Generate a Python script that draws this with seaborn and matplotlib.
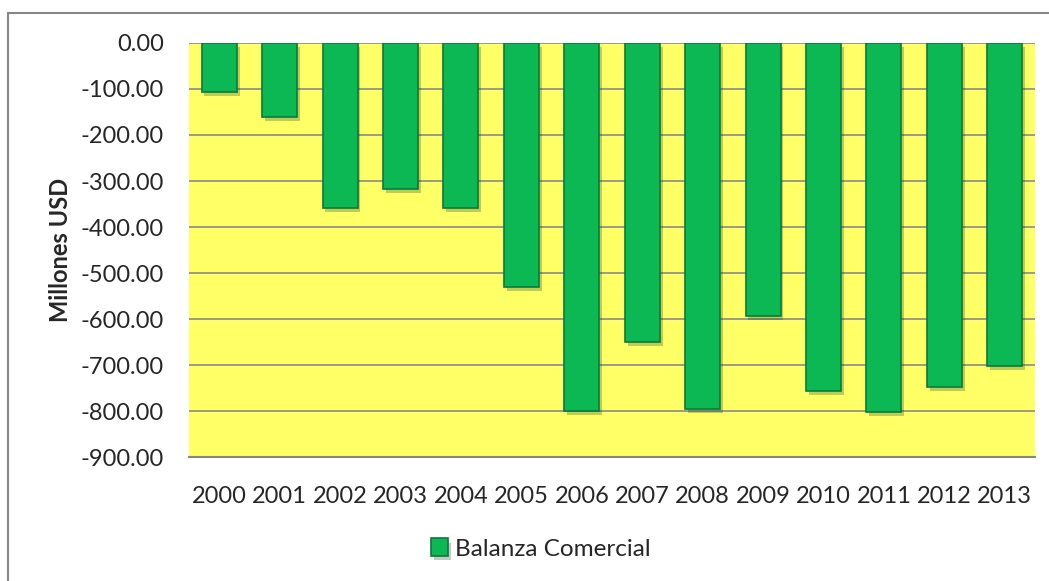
import pandas as pd
import matplotlib
matplotlib.use("Agg")
import matplotlib.pyplot as plt
import matplotlib.patheffects as pe
from matplotlib.patches import Rectangle
import seaborn as sns

years = ['2000', '2001', '2002', '2003', '2004', '2005', '2006',
         '2007', '2008', '2009', '2010', '2011', '2012', '2013']
balanza = [-106, -161, -358, -317, -358, -530, -800,
           -650, -795, -594, -757, -802, -748, -702]
yticks = [0, -100, -200, -300, -400, -500, -600, -700, -800, -900]

df = pd.DataFrame({'year': years, 'balanza': balanza})

sns.set_style('white')
plt.rcParams['font.family'] = ['Lato', 'DejaVu Sans']

fig = plt.figure(figsize=(10.49, 5.81), dpi=100)
ax = fig.add_axes([0.1802, 0.2134, 0.8065, 0.7126])

sns.barplot(data=df, x='year', y='balanza', color='#0BB853', saturation=1,
            width=0.58, edgecolor='#0A7A3A', linewidth=1.2, ax=ax,
            label='Balanza Comercial', zorder=3)

for bar in ax.patches:
    bar.set_path_effects([pe.SimplePatchShadow(offset=(2, -3), alpha=0.25),
                          pe.Normal()])

ax.set_facecolor('#FFFF66')
ax.set_ylim(-900, 0)
ax.set_xlim(-0.5, len(years) - 0.5)
ax.set_yticks(yticks)
ax.set_yticklabels([f'{v:.2f}' for v in yticks])
ax.yaxis.grid(True, color='#8A8A8A', linewidth=1.2, zorder=0)
ax.set_axisbelow(True)
for side in ['left', 'right', 'top']:
    ax.spines[side].set_visible(False)
ax.spines['bottom'].set_color('#868686')
ax.spines['bottom'].set_linewidth(1.5)
ax.tick_params(axis='both', length=0, labelsize=17)
ax.tick_params(axis='y', pad=18)
ax.tick_params(axis='x', pad=21)
ax.set_xlabel('')
ax.set_ylabel('Millones USD', fontsize=17, fontweight='bold', labelpad=6)

leg = ax.legend(loc='center', bbox_to_anchor=(541 / 1049, 1 - 549 / 581),
                bbox_transform=fig.transFigure, frameon=False,
                fontsize=17.5, handlelength=0.7, handleheight=0.7,
                handletextpad=0.3)

fig.patches.append(Rectangle((8 / 1049, -0.1), 1.2, 1 - 13 / 581 + 0.1,
                             transform=fig.transFigure, fill=False,
                             edgecolor='#868686', linewidth=1.5))

fig.savefig('out.png', dpi=100)
